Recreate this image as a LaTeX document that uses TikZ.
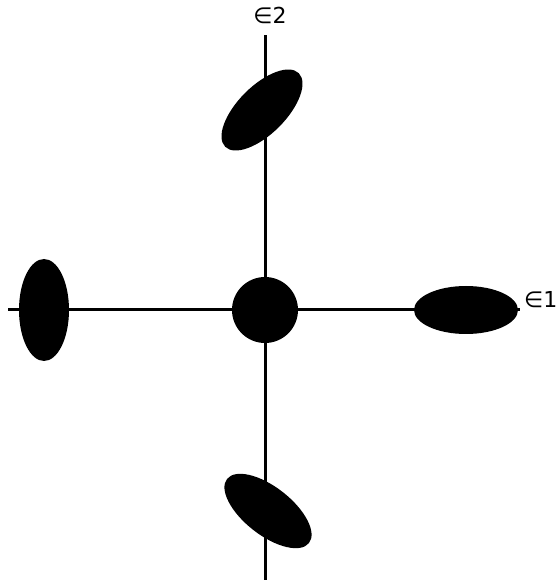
\documentclass[tikz,border=0pt]{standalone}
\usepackage{fontspec}
\newfontfamily\labelfont{DejaVu Sans}
\newcommand{\axistext}[1]{{\fontsize{22}{26}\selectfont\labelfont #1}}
\usetikzlibrary{shapes.geometric}
\begin{document}
\begin{tikzpicture}[x=1pt,y=1pt,
  axis/.style={line width=3pt,black},
  blob/.style={ellipse,fill=black,draw=none,inner sep=0pt,minimum width=104pt,minimum height=48pt},
  axislabel/.style={inner sep=0pt}]
  \useasboundingbox (0,0) rectangle (557,584);
  % axes
  \coordinate (ytop) at (265,549);
  \coordinate (ybot) at (265,4);
  \coordinate (xleft) at (8,274);
  \coordinate (xright) at (520,274);
  \draw[axis] (ybot) -- (ytop);
  \draw[axis] (xleft) -- (xright);
  % shapes on the axes
  \node[circle,fill=black,inner sep=0pt,minimum size=66pt] (centre) at (265,274) {};
  \node[blob] (right) at (466,274) {};
  \node[blob,rotate=90,minimum width=102pt,minimum height=50pt] (left) at (44,274) {};
  \node[blob,rotate=45] (top) at (262,474) {};
  \node[blob,rotate=-38] (bottom) at (268,73) {};
  % labels
  \node[axislabel] (e2) at (270,569) {\axistext{∈2}};
  \node[axislabel,anchor=west] (e1) at (524,284) {\axistext{∈1}};
\end{tikzpicture}
\end{document}
